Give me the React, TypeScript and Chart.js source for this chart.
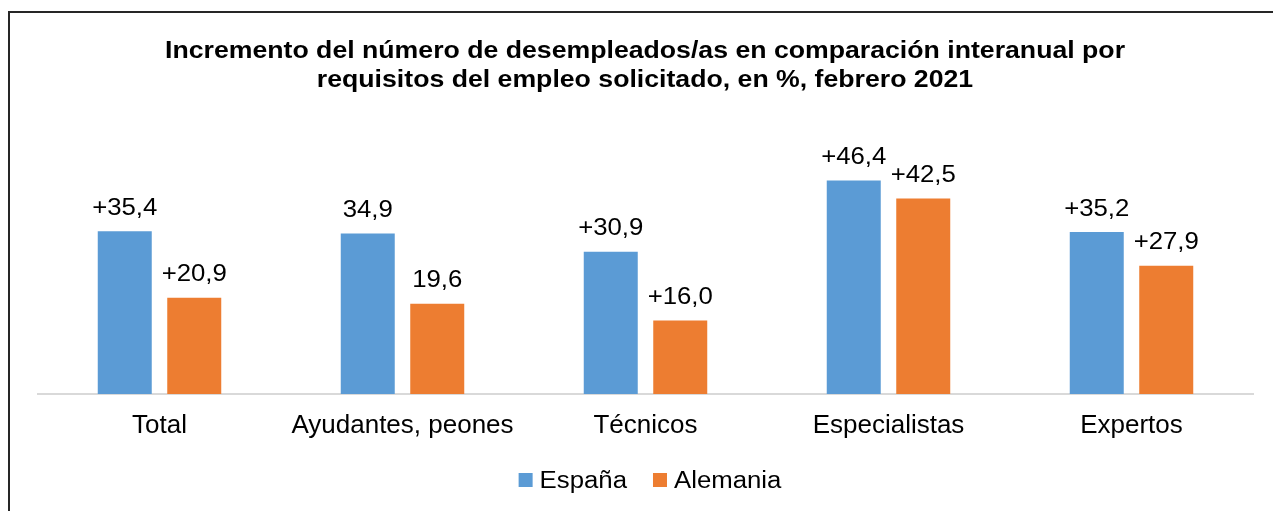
import React, { useEffect, useRef } from "react";
import { Chart, registerables } from "chart.js";

Chart.register(...registerables);

const categories = ["Total", "Ayudantes, peones", "Técnicos", "Especialistas", "Expertos"];
const seriesNames = ["España", "Alemania"];
const espanaValues = [35.4, 34.9, 30.9, 46.4, 35.2];
const alemaniaValues = [20.9, 19.6, 16.0, 42.5, 27.9];
const espanaLabels = ["+35,4", "34,9", "+30,9", "+46,4", "+35,2"];
const alemaniaLabels = ["+20,9", "19,6", "+16,0", "+42,5", "+27,9"];
const titleLines = [
  "Incremento del número de desempleados/as en comparación interanual por",
  "requisitos del empleo solicitado, en %, febrero 2021",
];
const yMin = 0;
const yMax = 50;

const BLUE = "#5B9BD5";
const ORANGE = "#ED7D31";
const FONT = "'Liberation Sans', Arial, sans-serif";
const seriesColors = [BLUE, ORANGE];
const seriesLabels = [espanaLabels, alemaniaLabels];

function drawStretched(ctx: CanvasRenderingContext2D, text: string, x: number, y: number, sx: number, align: "left" | "center") {
  ctx.save();
  ctx.translate(x, y);
  ctx.scale(sx, 1);
  ctx.textAlign = align;
  ctx.textBaseline = "alphabetic";
  ctx.fillText(text, 0, 0);
  ctx.restore();
}

const decorPlugin = {
  id: "decor",
  beforeDraw(chart: any) {
    const ctx = chart.ctx;
    ctx.save();
    ctx.fillStyle = "#fff";
    ctx.fillRect(0, 0, chart.width, chart.height);
    ctx.restore();
  },
  afterDraw(chart: any) {
    const ctx: CanvasRenderingContext2D = chart.ctx;
    ctx.save();
    // outer frame
    ctx.strokeStyle = "#262626";
    ctx.lineWidth = 2;
    ctx.strokeRect(9, 12, 1400, 700);

    // title
    ctx.fillStyle = "#000";
    ctx.font = `bold 23px ${FONT}`;
    const titleSx = 960 / ctx.measureText(titleLines[0]).width;
    const cx = 645;
    drawStretched(ctx, titleLines[0], cx, 57.5, titleSx, "center");
    drawStretched(ctx, titleLines[1], cx, 86.5, titleSx, "center");

    // data labels
    const sx = 1.12;
    ctx.font = `23px ${FONT}`;
    chart.data.datasets.forEach((_ds: any, i: number) => {
      const meta = chart.getDatasetMeta(i);
      meta.data.forEach((bar: any, j: number) => {
        drawStretched(ctx, seriesLabels[i][j], bar.x, bar.y - 16.5, sx, "center");
      });
    });

    // legend
    const sq = 14;
    const gapText = 7;
    const gapItem = 26;
    const widths = seriesNames.map((n) => ctx.measureText(n).width * sx);
    const total = widths.reduce((a, w) => a + sq + gapText + w, 0) + gapItem * (seriesNames.length - 1);
    let x = 650 - total / 2;
    const baseY = 488;
    seriesNames.forEach((n, i) => {
      ctx.fillStyle = seriesColors[i];
      ctx.fillRect(x, 473, sq, sq);
      ctx.fillStyle = "#000";
      drawStretched(ctx, n, x + sq + gapText, baseY, sx, "left");
      x += sq + gapText + widths[i] + gapItem;
    });
    ctx.restore();
  },
};

export default function App() {
  const ref = useRef<HTMLCanvasElement>(null);
  useEffect(() => {
    if (!ref.current) return;
    const chart = new Chart(ref.current, {
      type: "bar",
      data: {
        labels: categories,
        datasets: [
          {
            label: seriesNames[0],
            data: espanaValues,
            backgroundColor: BLUE,
            borderWidth: 0,
            barPercentage: 0.777,
            categoryPercentage: 0.572,
          },
          {
            label: seriesNames[1],
            data: alemaniaValues,
            backgroundColor: ORANGE,
            borderWidth: 0,
            barPercentage: 0.777,
            categoryPercentage: 0.572,
          },
        ],
      },
      options: {
        responsive: false,
        animation: false,
        layout: { padding: { left: 38, right: 20, top: 164, bottom: 0 } },
        plugins: {
          legend: { display: false },
          title: { display: false },
          tooltip: { enabled: false },
        },
        scales: {
          x: {
            grid: { display: false, drawTicks: false },
            border: { display: true, color: "#D9D9D9", width: 2 },
            ticks: {
              color: "#000",
              font: { size: 26, family: FONT },
              padding: 16,
              maxRotation: 0,
              autoSkip: false,
            },
            afterFit(s: any) {
              s.height = 117;
            },
          },
          y: { display: false, min: yMin, max: yMax },
        },
      },
      plugins: [decorPlugin],
    });
    return () => chart.destroy();
  }, []);
  return (
    <div style={{ position: "fixed", left: 0, top: 0, width: 1273, height: 511, overflow: "hidden" }}>
      <canvas ref={ref} width={1273} height={511} style={{ display: "block" }} />
    </div>
  );
}
